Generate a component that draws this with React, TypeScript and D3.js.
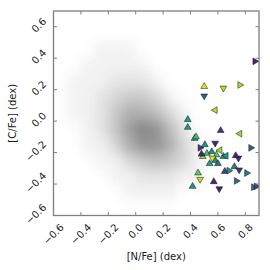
import React, { useEffect, useRef } from "react";
import * as d3 from "d3";

// background sample: density of the gray cloud on a 0.1 dex grid (0..9)
const gridX = [-0.55, -0.45, -0.35, -0.25, -0.15, -0.05, 0.05, 0.15, 0.25, 0.35, 0.45, 0.55, 0.65, 0.75, 0.85];
const gridY = [0.65, 0.55, 0.45, 0.35, 0.25, 0.15, 0.05, -0.05, -0.15, -0.25, -0.35, -0.45, -0.55];
const density = [
  [0, 0, 0, 0, 0, 0, 0, 0, 0, 0, 0, 0, 0, 0, 0],
  [0, 0, 0, 0, 0, 0, 0, 0, 0, 0, 0, 0, 0, 0, 0],
  [0, 0, 0, 1, 1, 1, 0, 0, 0, 0, 0, 0, 0, 0, 0],
  [0, 0, 1, 1, 1, 1, 1, 0, 0, 0, 0, 0, 0, 0, 0],
  [0, 1, 1, 1, 2, 2, 2, 1, 0, 0, 0, 0, 0, 0, 0],
  [0, 1, 1, 2, 3, 4, 4, 3, 1, 0, 0, 0, 0, 0, 0],
  [0, 1, 1, 2, 4, 6, 6, 5, 3, 1, 0, 0, 0, 0, 0],
  [0, 0, 1, 2, 4, 7, 9, 8, 5, 2, 0, 0, 0, 0, 0],
  [0, 0, 1, 1, 3, 6, 8, 8, 6, 3, 1, 0, 0, 0, 0],
  [0, 0, 0, 1, 1, 3, 4, 5, 4, 3, 1, 0, 0, 0, 0],
  [0, 0, 0, 0, 1, 1, 2, 2, 2, 1, 1, 0, 0, 0, 0],
  [0, 0, 0, 0, 0, 1, 1, 1, 1, 0, 0, 0, 0, 0, 0],
  [0, 0, 0, 0, 0, 0, 0, 0, 0, 0, 0, 0, 0, 0, 0],
];

// highlighted stars
const starNFe = [0.87, 0.50, 0.64, 0.76, 0.50, 0.58, 0.38, 0.38, 0.62, 0.76, 0.43, 0.44, 0.58, 0.84, 0.47,
  0.505, 0.52, 0.555, 0.59, 0.615, 0.49, 0.58, 0.64, 0.66, 0.54, 0.60, 0.75, 0.73, 0.65, 0.68, 0.72, 0.755,
  0.81, 0.455, 0.47, 0.57, 0.735, 0.415, 0.61, 0.86, 0.88, 0.48, 0.56];
const starCFe = [0.38, 0.22, 0.21, 0.23, 0.16, 0.07, 0.01, -0.04, -0.06, -0.08, -0.11, -0.10, -0.14, -0.17, -0.17,
  -0.15, -0.205, -0.195, -0.215, -0.185, -0.225, -0.25, -0.225, -0.22, -0.27, -0.27, -0.235, -0.22, -0.32, -0.315,
  -0.29, -0.31, -0.33, -0.33, -0.37, -0.385, -0.38, -0.415, -0.43, -0.42, -0.415, -0.21, -0.235];
const starColor = [0.1, 0.95, 0.88, 0.85, 0.3, 0.88, 0.55, 0.55, 0.15, 0.85, 0.6, 0.7, 0.1, 0.3, 0.15,
  0.5, 0.7, 0.5, 0.75, 0.85, 0.85, 0.5, 0.5, 0.55, 0.55, 0.35, 0.15, 0.1, 0.2, 0.5, 0.45, 0.15,
  0.4, 0.75, 0.9, 0.1, 0.35, 0.5, 0.1, 0.35, 0.2, 0.1, 0.95];
const starMarker = [">", "^", "v", ">", "v", "<", "^", "^", "^", "<", "^", "^", "v", ">", ">",
  "^", "^", "^", "^", "<", "^", "^", "^", "<", "^", "^", "v", "^", "^", ">", "^", "v",
  ">", "^", "v", "^", ">", "^", "v", ">", ">", "^", "v"];

const xTicks = [-0.6, -0.4, -0.2, 0.0, 0.2, 0.4, 0.6, 0.8];
const yTicks = [-0.6, -0.4, -0.2, 0.0, 0.2, 0.4, 0.6];

const W = 270;
const H = 270;
const left = 53.5;
const right = 259;
const top = 11;
const bottom = 215.5;

const fmt = (v: number) => d3.format(".1f")(v).replace("-", "\u2212");
const rot: Record<string, number> = { "^": 0, ">": 90, v: 180, "<": 270 };

const App = () => {
  const ref = useRef<SVGSVGElement>(null);

  useEffect(() => {
    const svg = d3.select(ref.current);
    svg.selectAll("*").remove();

    const x = d3.scaleLinear().domain([-0.6, 0.9]).range([left, right]);
    const y = d3.scaleLinear().domain([-0.6, 0.7]).range([bottom, top]);

    const defs = svg.append("defs");
    defs.append("clipPath").attr("id", "plot")
      .append("rect")
      .attr("x", left).attr("y", top)
      .attr("width", right - left).attr("height", bottom - top);
    defs.append("filter").attr("id", "blur")
      .attr("x", "-20%").attr("y", "-20%").attr("width", "140%").attr("height", "140%")
      .append("feGaussianBlur").attr("stdDeviation", 6);

    // gray cloud
    const cells = gridY.flatMap((gy, r) => gridX.map((gx, c) => ({ gx, gy, v: density[r][c] })));
    svg.append("g").attr("clip-path", "url(#plot)")
      .append("g").attr("filter", "url(#blur)")
      .selectAll("rect")
      .data(cells.filter(d => d.v > 0))
      .enter()
      .append("rect")
      .attr("x", d => x(d.gx - 0.05))
      .attr("y", d => y(d.gy + 0.05))
      .attr("width", x(0.1) - x(0))
      .attr("height", y(0) - y(0.1))
      .attr("fill", "#707070")
      .attr("fill-opacity", d => (d.v / 9) * 0.85);

    // stars
    const tri = d3.symbol().type(d3.symbolTriangle).size(20);
    svg.append("g").attr("clip-path", "url(#plot)")
      .selectAll("path")
      .data(starNFe.map((n, i) => ({ n, c: starCFe[i], col: starColor[i], m: starMarker[i] })))
      .enter()
      .append("path")
      .attr("d", tri)
      .attr("transform", d => `translate(${x(d.n)},${y(d.c)}) rotate(${rot[d.m]})`)
      .attr("fill", d => d3.interpolateViridis(d.col))
      .attr("stroke", "#111")
      .attr("stroke-width", 0.5);

    // frame and ticks
    const frame = "#7f7f7f";
    svg.append("rect")
      .attr("x", left).attr("y", top)
      .attr("width", right - left).attr("height", bottom - top)
      .attr("fill", "none").attr("stroke", frame).attr("stroke-width", 1.3);
    const tk = svg.append("g").attr("stroke", frame).attr("stroke-width", 1);
    xTicks.forEach(t => {
      tk.append("line").attr("x1", x(t)).attr("x2", x(t)).attr("y1", bottom).attr("y2", bottom - 3.5);
      tk.append("line").attr("x1", x(t)).attr("x2", x(t)).attr("y1", top).attr("y2", top + 3.5);
    });
    yTicks.forEach(t => {
      tk.append("line").attr("y1", y(t)).attr("y2", y(t)).attr("x1", left).attr("x2", left + 3.5);
      tk.append("line").attr("y1", y(t)).attr("y2", y(t)).attr("x1", right).attr("x2", right - 3.5);
    });

    const font = "DejaVu Sans, sans-serif";
    const ink = 7.3;

    // x tick labels, rotated 45 deg, box centred under the tick
    xTicks.forEach(t => {
      const txt = svg.append("text")
        .attr("font-family", font).attr("font-size", 10).attr("fill", "#1a1a1a")
        .attr("text-anchor", "middle").attr("dominant-baseline", "central")
        .text(fmt(t));
      const L = (txt.node() as SVGTextElement).getComputedTextLength();
      const half = (L + ink) / (2 * Math.SQRT2);
      txt.attr("transform", `translate(${x(t)},${bottom + 7.5 + half}) rotate(-45)`);
    });

    // y tick labels, rotated 45 deg, box right-aligned next to the axis
    yTicks.forEach(t => {
      const txt = svg.append("text")
        .attr("font-family", font).attr("font-size", 10).attr("fill", "#1a1a1a")
        .attr("text-anchor", "middle").attr("dominant-baseline", "central")
        .text(fmt(t));
      const L = (txt.node() as SVGTextElement).getComputedTextLength();
      const half = (L + ink) / (2 * Math.SQRT2);
      txt.attr("transform", `translate(${left - 6.5 - half},${y(t) - 1.5}) rotate(-45)`);
    });

    svg.append("text")
      .attr("x", (left + right) / 2).attr("y", 260)
      .attr("text-anchor", "middle")
      .attr("font-family", font).attr("font-size", 10).attr("fill", "#1a1a1a")
      .text("[N/Fe] (dex)");
    svg.append("text")
      .attr("transform", `translate(15.5,${(top + bottom) / 2}) rotate(-90)`)
      .attr("text-anchor", "middle")
      .attr("font-family", font).attr("font-size", 10).attr("fill", "#1a1a1a")
      .text("[C/Fe] (dex)");
  }, []);

  return (
    <svg
      ref={ref}
      width={W}
      height={H}
      style={{ position: "absolute", left: 0, top: 0, background: "#fff" }}
    />
  );
};

export default App;
